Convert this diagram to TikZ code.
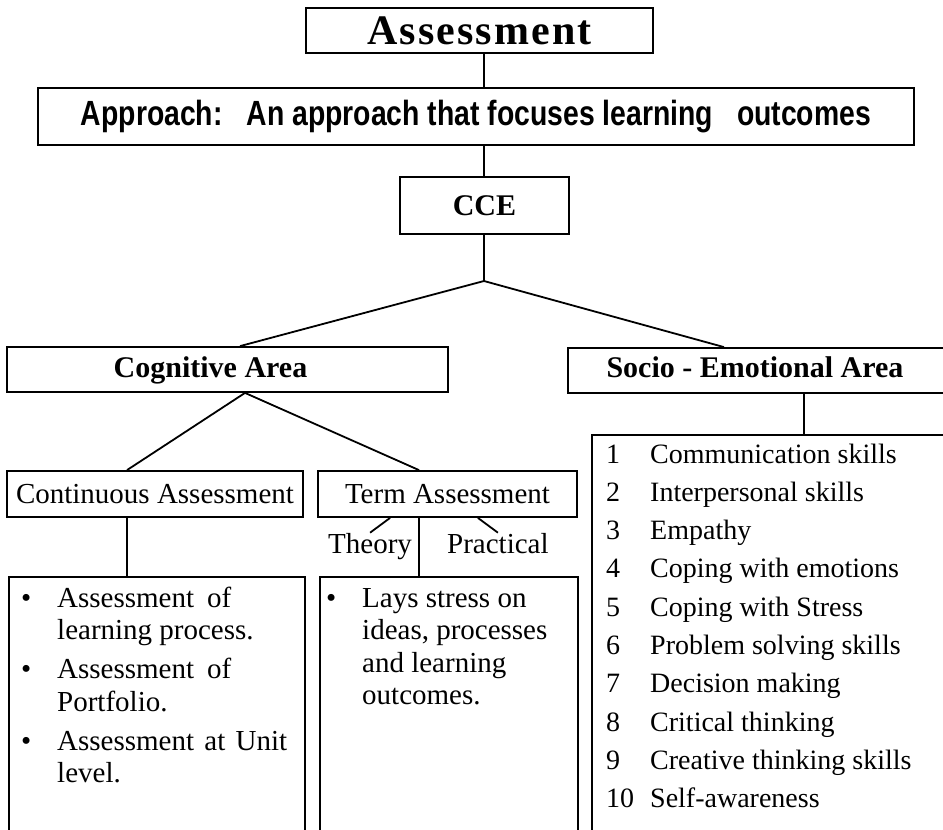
\documentclass[tikz,border=0pt]{standalone}
\usepackage{fontspec}
\usepackage{graphicx}
\setmainfont{Liberation Serif}
\newfontfamily\apprfont{Liberation Sans}
\newfontfamily\spacedserif[LetterSpace=5]{Liberation Serif}
\usetikzlibrary{positioning,calc}

\tikzset{
  box/.style={draw, rectangle, line width=1.8pt, inner sep=0pt},
  conn/.style={line width=1.8pt},
  headtext/.style={font=\fontsize{30}{36}\selectfont\bfseries, inner sep=0pt},
  plaintext/.style={font=\fontsize{29}{34}\selectfont, inner sep=0pt},
  listtext/.style={font=\fontsize{29}{32.5}\selectfont, inner sep=0pt, anchor=base west},
  skilltext/.style={font=\fontsize{28}{38.33}\selectfont, inner sep=0pt, anchor=base west}
}

\begin{document}
\begin{tikzpicture}[x=1pt, y=-1pt]
\useasboundingbox (0,0) rectangle (943,830);
\clip (0,0) rectangle (943,830);

% top of the chart
\node[box, minimum width=347pt, minimum height=45pt] (assess) at (479.5,30.5)
  {\spacedserif\bfseries\fontsize{42}{48}\selectfont Assessment};
\node[box, minimum width=876pt, minimum height=57pt] (appr) at (476,116.5)
  {\apprfont\bfseries\fontsize{35}{40}\selectfont\resizebox{790pt}{\height}{Approach:\hspace{29.6pt}An approach that focuses learning\hspace{29.6pt}outcomes}};
\node[box, headtext, minimum width=169pt, minimum height=57pt] (cce) at (484.5,205.5) {CCE};

% the two areas
\node[box, minimum width=441pt, minimum height=45pt] (cog) at (227.5,369.5) {};
\node[headtext, anchor=base] (coglabel) at (210.5,377) {Cognitive Area};
\node[box, minimum width=420pt, minimum height=45pt, anchor=west] (socio) at (567,370.5) {};
\node[headtext, anchor=base] (sociolabel) at (755,377) {Socio - Emotional Area};

% kinds of assessment
\node[box, plaintext, minimum width=296pt, minimum height=46pt] (cont) at (155,494) {Continuous Assessment};
\node[box, plaintext, minimum width=259pt, minimum height=46pt] (term) at (447.5,494) {Term Assessment};
\node[plaintext, anchor=base west] (theory) at (328,553) {Theory};
\node[plaintext, anchor=base west] (practical) at (447,553) {Practical};

% open boxes at the bottom
\node[box, anchor=north west, minimum width=296pt, minimum height=300pt] (contlist) at (8,576) {};
\node[box, anchor=north west, minimum width=258pt, minimum height=300pt] (termlist) at (319,576) {};
\node[box, anchor=north west, minimum width=400pt, minimum height=420pt] (skillbox) at (591,434) {};

\node[listtext] (contitems) at (21,607) {%
  \begin{tabular}[t]{@{}p{36pt}@{}l@{}}
  \textbullet & \makebox[174pt][s]{Assessment of}\\
              & learning process.\\[6.5pt]
  \textbullet & \makebox[174pt][s]{Assessment of}\\
              & Portfolio.\\[6.5pt]
  \textbullet & \makebox[230pt][s]{Assessment at Unit}\\
              & level.
  \end{tabular}};
\node[listtext] (termitems) at (326,607) {%
  \begin{tabular}[t]{@{}p{36pt}@{}l@{}}
  \textbullet & Lays stress on\\
              & ideas, processes\\
              & and learning\\
              & outcomes.
  \end{tabular}};
\node[skilltext] (skills) at (606,463) {%
  \begin{tabular}[t]{@{}p{44pt}@{}l@{}}
  1  & Communication skills\\
  2  & Interpersonal skills\\
  3  & Empathy\\
  4  & Coping with emotions\\
  5  & Coping with Stress\\
  6  & Problem solving skills\\
  7  & Decision making\\
  8  & Critical thinking\\
  9  & Creative thinking skills\\
  10 & Self-awareness
  \end{tabular}};

% connectors
\coordinate (split) at (484,281);
\coordinate (cdrop) at (127,0);
\coordinate (tdrop) at (419,0);
\coordinate (sdrop) at (804,0);
\coordinate (thtop) at ($(theory.north)+(20,0)$);
\coordinate (prtop) at ($(practical.north)+(-20,0)$);
\draw[conn] (assess.south -| split) -- (appr.north -| split);
\draw[conn] (appr.south -| split) -- (cce.north -| split);
\draw[conn] (cce.south -| split) -- (split);
\draw[conn] (split) -- ($(cog.north)+(12.5,0)$);
\draw[conn] (split) -- ($(socio.north west)+(157,0)$);
\draw[conn] ($(cog.south)+(17.5,0)$) -- (cont.north -| cdrop);
\draw[conn] ($(cog.south)+(17.5,0)$) -- (term.north -| tdrop);
\draw[conn] (cont.south -| cdrop) -- (contlist.north -| cdrop);
\draw[conn] (term.south -| tdrop) -- (termlist.north -| tdrop);
\draw[conn] (thtop |- term.south) -- (theory.north);
\draw[conn] (prtop |- term.south) -- (practical.north);
\draw[conn] (socio.south -| sdrop) -- (skillbox.north -| sdrop);
\end{tikzpicture}
\end{document}
